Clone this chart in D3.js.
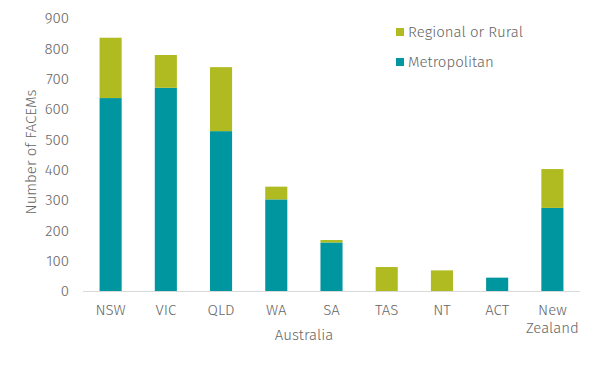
<!DOCTYPE html>
<html lang="en">
<head>
  <meta charset="UTF-8">
  <title>FACEMs by region</title>
  <script src="https://cdn.jsdelivr.net/npm/d3@7"></script>
  <style>
    body { margin: 0; background: #fff; }
    text { font-family: "Fira Sans", "Open Sans", sans-serif; font-weight: 300; fill: #666; }
  </style>
</head>
<body>
  <script>
  // chart data
  var categories = ["NSW", "VIC", "QLD", "WA", "SA", "TAS", "NT", "ACT", "New Zealand"];
  var metropolitan = [636, 670, 527, 302, 160, 0, 0, 44, 274];
  var regional = [199, 108, 211, 42, 8, 79, 68, 0, 128];
  var yTicks = [0, 100, 200, 300, 400, 500, 600, 700, 800, 900];

  var w = 599, h = 382;
  var plotLeft = 83, plotRight = 580, plotTop = 18, plotBottom = 291;
  var fs = "15px";

  var colMetro = "#00969f", colRegional = "#afbb21";

  var svg = d3.select("body").append("svg")
    .attr("width", w).attr("height", h);

  var x = d3.scaleBand().domain(categories).range([plotLeft, plotRight]).paddingInner(0.6).paddingOuter(0.3);
  var y = d3.scaleLinear().domain([0, 900]).range([plotBottom, plotTop]);

  var rows = categories.map(function(c, i) {
    return { cat: c, metro: metropolitan[i], regional: regional[i] };
  });
  var stacked = d3.stack().keys(["metro", "regional"])(rows);
  var colors = { metro: colMetro, regional: colRegional };

  svg.selectAll("g.series")
    .data(stacked)
    .enter().append("g")
    .attr("fill", function(d) { return colors[d.key]; })
    .selectAll("rect")
    .data(function(d) { return d; })
    .enter().append("rect")
    .attr("x", function(d) { return x(d.data.cat); })
    .attr("y", function(d) { return y(d[1]); })
    .attr("width", x.bandwidth())
    .attr("height", function(d) { return y(d[0]) - y(d[1]); });

  // baseline
  svg.append("line")
    .attr("x1", plotLeft).attr("x2", plotRight)
    .attr("y1", y(0) + 0.5).attr("y2", y(0) + 0.5)
    .attr("stroke", "#d9d9d9").attr("stroke-width", 1);

  // y axis labels
  var yAxis = d3.axisLeft(y).tickValues(yTicks).tickSize(0).tickPadding(0);
  var gy = svg.append("g").attr("transform", "translate(69,0)").call(yAxis);
  gy.select(".domain").remove();
  gy.selectAll("text").style("font-size", fs).attr("fill", "#666");

  // x axis labels
  var xAxis = d3.axisBottom(x).tickSize(0).tickPadding(0);
  var gx = svg.append("g").attr("transform", "translate(0," + (y(0) + 13) + ")").call(xAxis);
  gx.select(".domain").remove();
  gx.selectAll("text").style("font-size", fs).attr("fill", "#666")
    .each(function(d) {
      var t = d3.select(this);
      var words = d.split(" ");
      t.text(null);
      words.forEach(function(wd, i) {
        t.append("tspan").attr("x", 0).attr("dy", i === 0 ? "0.71em" : "1.2em").text(wd);
      });
    });

  // axis titles
  svg.append("text")
    .attr("x", 304).attr("y", 340)
    .attr("text-anchor", "middle").style("font-size", fs)
    .text("Australia");

  svg.append("text")
    .attr("transform", "translate(36,152) rotate(-90)")
    .attr("text-anchor", "middle").style("font-size", fs)
    .text("Number of FACEMs");

  // legend
  var legend = [["Regional or Rural", colRegional], ["Metropolitan", colMetro]];
  var lg = svg.selectAll("g.legend").data(legend).enter().append("g")
    .attr("transform", function(d, i) { return "translate(396," + (32 + i * 30) + ")"; });
  lg.append("rect").attr("x", 0).attr("y", -4).attr("width", 8).attr("height", 8)
    .attr("fill", function(d) { return d[1]; });
  lg.append("text").attr("x", 12).attr("dy", "0.35em").style("font-size", fs)
    .text(function(d) { return d[0]; });
  </script>
</body>
</html>
